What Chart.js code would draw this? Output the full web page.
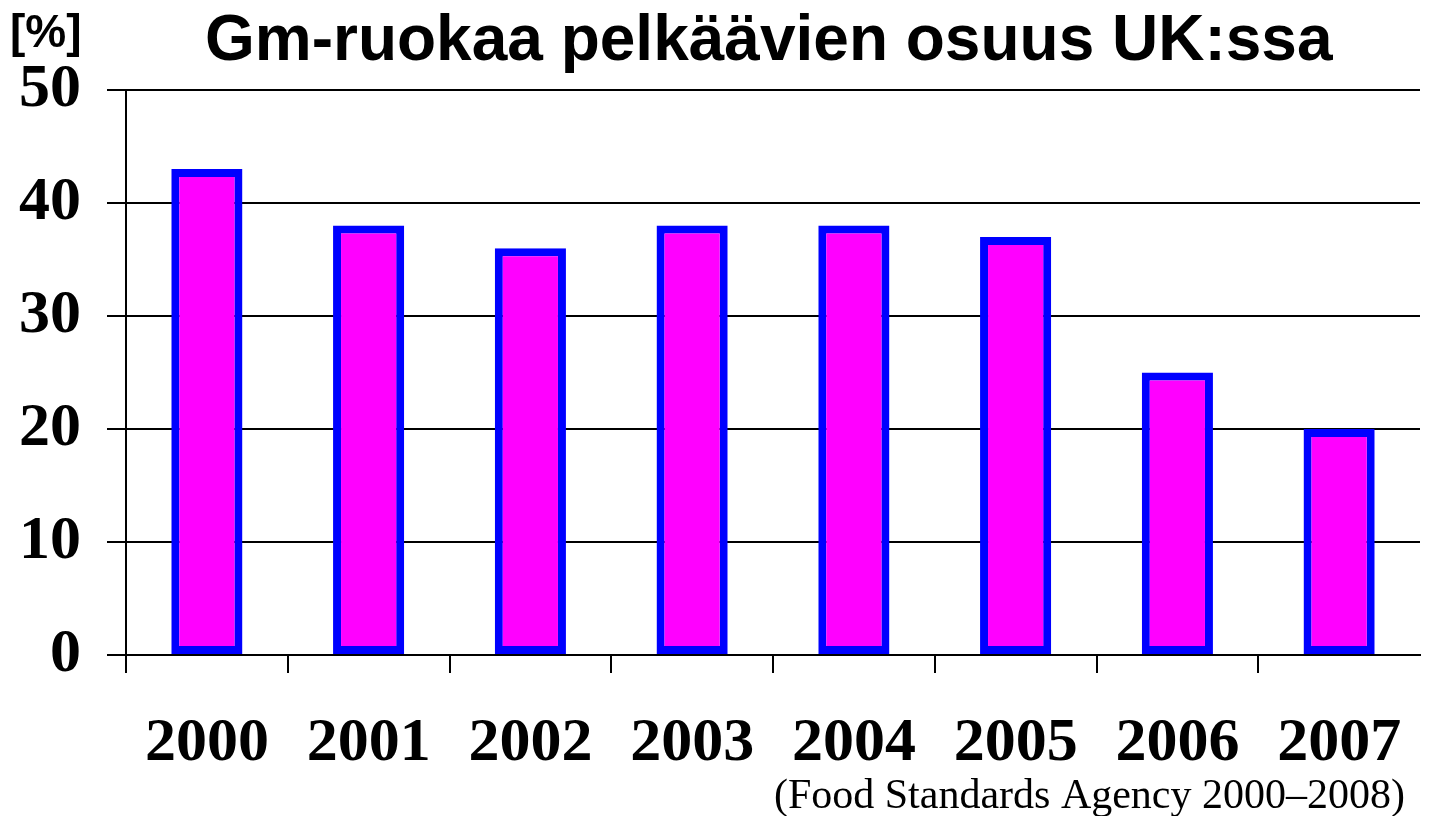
<!DOCTYPE html>
<html>
<head>
<meta charset="utf-8">
<script src="https://cdn.jsdelivr.net/npm/chart.js@4/dist/chart.umd.min.js"></script>
<style>
html,body{margin:0;padding:0;background:#fff;overflow:hidden;}
#wrap{width:1429px;height:816px;position:relative;overflow:hidden;}
canvas{display:block;}
</style>
</head>
<body>
<div id="wrap"><canvas id="c" width="1429" height="816"></canvas></div>
<script>
const categories = ['2000','2001','2002','2003','2004','2005','2006','2007'];
const values = [43, 38, 36, 38, 38, 37, 25, 20];
const yTicks = [0, 10, 20, 30, 40, 50];
const titleText = 'Gm-ruokaa pelkäävien osuus UK:ssa';
const unitText = '[%]';
const sourceText = '(Food Standards Agency 2000\u20132008)';

const textPlugin = {
  id: 'texts',
  afterDraw(chart) {
    const ctx = chart.ctx;
    ctx.save();
    ctx.fillStyle = '#000';
    ctx.textBaseline = 'alphabetic';
    ctx.font = 'bold 64px "Liberation Sans", Arial, sans-serif';
    ctx.textAlign = 'left';
    ctx.fillText(titleText, 205, 60);
    ctx.font = 'bold 46px "Liberation Sans", Arial, sans-serif';
    ctx.fillText(unitText, 10, 47);
    ctx.font = '42px "Liberation Serif", "Times New Roman", serif';
    ctx.textAlign = 'right';
    ctx.fillText(sourceText, 1405, 808);
    ctx.restore();
  }
};

new Chart(document.getElementById('c'), {
  type: 'bar',
  data: {
    labels: categories,
    datasets: [{
      data: values,
      backgroundColor: '#FF00FF',
      borderColor: '#0000FF',
      borderWidth: 8,
      borderSkipped: false,
      barPercentage: 0.44,
      categoryPercentage: 1.0
    }]
  },
  options: {
    responsive: false,
    animation: false,
    devicePixelRatio: 1,
    layout: { padding: { top: 90, right: 9, left: 0, bottom: 0 } },
    plugins: { legend: { display: false }, tooltip: { enabled: false }, title: { display: false } },
    scales: {
      x: {
        offset: true,
        grid: {
          display: true, drawOnChartArea: false, drawTicks: true, tickLength: 18,
          color: (c) => (c.type === 'tick' ? '#000' : 'rgba(0,0,0,0)'),
          lineWidth: 2, offset: true
        },
        border: { display: true, color: '#000', width: 2 },
        ticks: { color: '#000', font: { family: '"Liberation Serif", "Times New Roman", serif', size: 62, weight: 'bold' }, padding: 34, maxRotation: 0, autoSkip: false },
        afterFit(scale) { scale.height = 161; scale.paddingLeft = 0; scale.paddingRight = 0; }
      },
      y: {
        min: 0, max: 50,
        afterBuildTicks(scale) { scale.ticks = yTicks.map(v => ({ value: v })); },
        grid: { color: '#000', lineWidth: 2, tickLength: 19, drawTicks: true },
        border: { display: true, color: '#000', width: 2 },
        ticks: { color: '#000', font: { family: '"Liberation Serif", "Times New Roman", serif', size: 62, weight: 'bold' }, padding: 26 },
        afterFit(scale) { scale.width = 126; }
      }
    }
  },
  plugins: [textPlugin]
});
</script>
</body>
</html>
